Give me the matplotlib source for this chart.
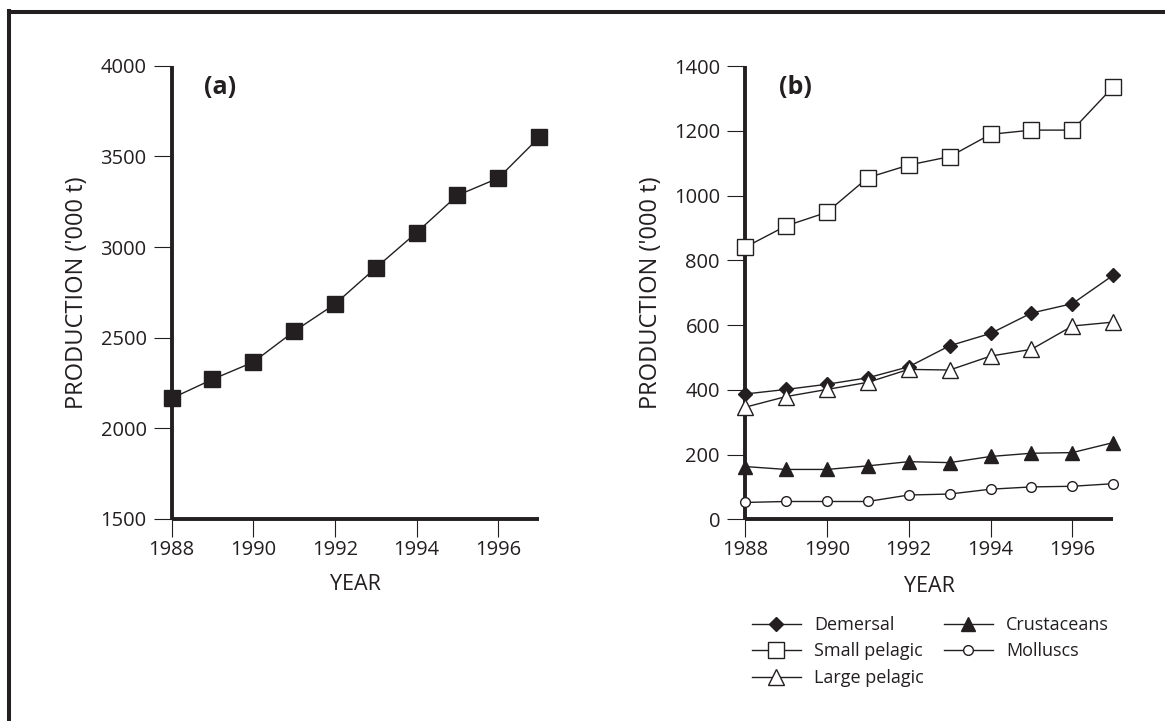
import matplotlib
matplotlib.use("Agg")
import matplotlib.pyplot as plt
from matplotlib.lines import Line2D

plt.rcParams['font.family'] = ['Open Sans', 'DejaVu Sans']

INK = '#231f20'

# ---------------- data ----------------
years = [1988, 1989, 1990, 1991, 1992, 1993, 1994, 1995, 1996, 1997]
total = [2165, 2270, 2365, 2535, 2685, 2885, 3080, 3285, 3380, 3605]

demersal      = [387, 401, 417, 437, 471, 536, 574, 637, 666, 754]
small_pelagic = [840, 906, 948, 1055, 1094, 1120, 1189, 1202, 1202, 1336]
large_pelagic = [346, 379, 401, 423, 463, 461, 504, 525, 597, 609]
crustaceans   = [163, 154, 154, 165, 178, 175, 194, 204, 206, 237]
molluscs      = [52, 55, 55, 55, 75, 78, 93, 100, 102, 110]

xticks = [1988, 1990, 1992, 1994, 1996]
yticks_a = [1500, 2000, 2500, 3000, 3500, 4000]
yticks_b = [0, 200, 400, 600, 800, 1000, 1200, 1400]

W, H = 1165, 721
fig = plt.figure(figsize=(W / 100, H / 100), dpi=100)


def frac_axes(left, right, top, bottom):
    return [left / W, 1 - bottom / H, (right - left) / W, (bottom - top) / H]


def style(ax, ylim, yticks):
    ax.set_xlim(1988, 1997)
    ax.set_ylim(*ylim)
    ax.set_xticks(xticks)
    ax.set_yticks(yticks)
    for s in ['top', 'right']:
        ax.spines[s].set_visible(False)
    for s in ['left', 'bottom']:
        ax.spines[s].set_linewidth(2.8)
        ax.spines[s].set_color(INK)
        ax.spines[s].set_capstyle('butt')
    ax.tick_params(axis='both', direction='out', length=13, width=0.8,
                   color=INK, labelcolor=INK, labelsize=14.5)
    ax.tick_params(axis='x', pad=2)
    ax.tick_params(axis='y', pad=5)
    ax.patch.set_visible(False)


# ---------------- panel (a) ----------------
ax_a = fig.add_axes(frac_axes(171.5, 539.2, 65.7, 519.0))
style(ax_a, (1500, 4000), yticks_a)
ax_a.plot(years, total, color=INK, lw=1.0, marker='s', markersize=12,
          markerfacecolor=INK, markeredgecolor=INK, clip_on=False, zorder=4)
ax_a.set_xlabel('YEAR', fontsize=15.5, color=INK, va='center')
ax_a.xaxis.set_label_coords(0.5, -65 / 453.3)
ax_a.set_ylabel("PRODUCTION ('000 t)", fontsize=17, color=INK, va='center')
ax_a.yaxis.set_label_coords((77 - 171.5) / 367.7, 0.5)
fig.text(220 / W, 1 - 88 / H, '(a)', fontsize=18, fontweight='bold',
         color=INK, ha='center', va='center')

# ---------------- panel (b) ----------------
ax_b = fig.add_axes(frac_axes(745.0, 1113.3, 66.0, 519.3))
style(ax_b, (0, 1400), yticks_b)
common = dict(color=INK, lw=1.0, clip_on=False, zorder=4, markeredgewidth=1.0)
ax_b.plot(years, demersal, marker='D', markersize=7.5, markerfacecolor=INK,
          markeredgecolor=INK, label='Demersal', **common)
ax_b.plot(years, small_pelagic, marker='s', markersize=11, markerfacecolor='white',
          markeredgecolor=INK, label='Small pelagic', **common)
ax_b.plot(years, large_pelagic, marker='^', markersize=11, markerfacecolor='white',
          markeredgecolor=INK, label='Large pelagic', **common)
ax_b.plot(years, crustaceans, marker='^', markersize=9.5, markerfacecolor=INK,
          markeredgecolor=INK, label='Crustaceans', **common)
ax_b.plot(years, molluscs, marker='o', markersize=7, markerfacecolor='white',
          markeredgecolor=INK, label='Molluscs', **common)
ax_b.set_xlabel('YEAR', fontsize=15.5, color=INK, va='center')
ax_b.xaxis.set_label_coords(0.5, -67 / 453.3)
ax_b.set_ylabel("PRODUCTION ('000 t)", fontsize=17, color=INK, va='center')
ax_b.yaxis.set_label_coords((651 - 745) / 368.3, 0.5)
fig.text(795 / W, 1 - 88 / H, '(b)', fontsize=18, fontweight='bold',
         color=INK, ha='center', va='center')

leg = ax_b.legend(loc='upper left', bbox_to_anchor=(752 / W, 1 - 616 / H),
                  bbox_transform=fig.transFigure, ncol=2, frameon=False,
                  fontsize=13, handlelength=2.7, handletextpad=0.75,
                  columnspacing=1.1, labelspacing=0.47, borderpad=0,
                  borderaxespad=0)
for t in leg.get_texts():
    t.set_color(INK)

# ---------------- outer frame (left and top edges) ----------------
fig.add_artist(Line2D([8.8 / W, 8.8 / W], [0, 1 - 10.5 / H],
                      transform=fig.transFigure, color=INK, lw=2.9,
                      solid_capstyle='projecting'))
fig.add_artist(Line2D([8.8 / W, 1], [1 - 12 / H, 1 - 12 / H],
                      transform=fig.transFigure, color=INK, lw=2.9,
                      solid_capstyle='projecting'))

fig.savefig('out.png', dpi=100, facecolor='white')
